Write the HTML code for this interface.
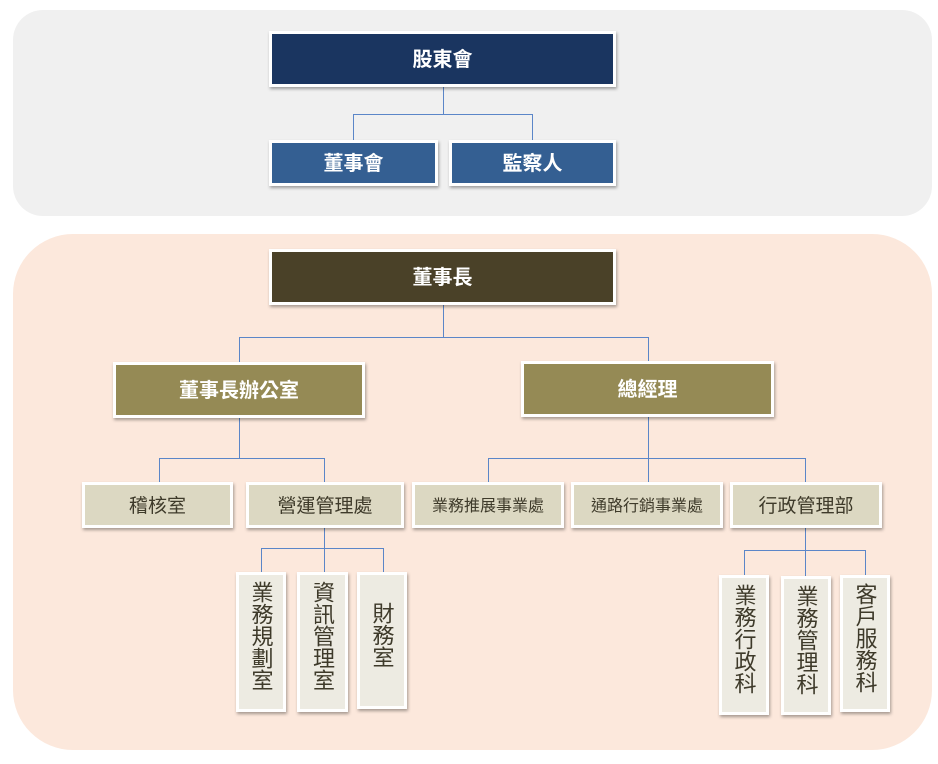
<!DOCTYPE html>
<html><head><meta charset="utf-8"><style>
body{margin:0;width:938px;height:764px;background:#fff;position:relative;overflow:hidden;font-family:"Liberation Sans","Noto Sans CJK TC",sans-serif}
.p{position:absolute}
.b{position:absolute;box-sizing:border-box;border:3px solid #fff;box-shadow:1px 2px 3px rgba(0,0,0,.35);display:flex;align-items:center;justify-content:center;text-align:center}
.w{color:#fff;font-weight:bold;font-size:20px;padding-bottom:4px}
.t{background:#dcd8c2;color:#3e3a2a;font-size:19px;padding-bottom:2px}
.v{background:#edebe2;color:#3e3a2a;font-size:22px;line-height:27px;writing-mode:vertical-rl;padding-bottom:12px}
.l{position:absolute;background:#5b86c8}
</style></head><body>
<div class="p" style="left:13px;top:10px;width:919px;height:206px;background:#f0f0f0;border-radius:30px"></div>
<div class="p" style="left:13px;top:234px;width:919px;height:516px;background:#fce8dc;border-radius:60px"></div>

<div class="l" style="left:443px;top:86px;width:1px;height:29px"></div>
<div class="l" style="left:353px;top:114px;width:180px;height:1px"></div>
<div class="l" style="left:353px;top:114px;width:1px;height:28px"></div>
<div class="l" style="left:532px;top:114px;width:1px;height:28px"></div>

<div class="l" style="left:443px;top:304px;width:1px;height:34px"></div>
<div class="l" style="left:239px;top:337px;width:410px;height:1px"></div>
<div class="l" style="left:239px;top:337px;width:1px;height:27px"></div>
<div class="l" style="left:648px;top:337px;width:1px;height:26px"></div>

<div class="l" style="left:239px;top:417px;width:1px;height:42px"></div>
<div class="l" style="left:159px;top:458px;width:166px;height:1px"></div>
<div class="l" style="left:159px;top:458px;width:1px;height:26px"></div>
<div class="l" style="left:324px;top:458px;width:1px;height:26px"></div>

<div class="l" style="left:648px;top:416px;width:1px;height:68px"></div>
<div class="l" style="left:488px;top:458px;width:318px;height:1px"></div>
<div class="l" style="left:488px;top:458px;width:1px;height:26px"></div>
<div class="l" style="left:805px;top:458px;width:1px;height:26px"></div>

<div class="l" style="left:324px;top:527px;width:1px;height:47px"></div>
<div class="l" style="left:261px;top:548px;width:123px;height:1px"></div>
<div class="l" style="left:261px;top:548px;width:1px;height:26px"></div>
<div class="l" style="left:383px;top:548px;width:1px;height:26px"></div>

<div class="l" style="left:805px;top:527px;width:1px;height:50px"></div>
<div class="l" style="left:744px;top:550px;width:122px;height:1px"></div>
<div class="l" style="left:744px;top:550px;width:1px;height:27px"></div>
<div class="l" style="left:865px;top:550px;width:1px;height:27px"></div>

<div class="b w" style="left:269px;top:31px;width:347px;height:56px;background:#1a3560">股東會</div>
<div class="b w" style="left:269px;top:140px;width:169px;height:46px;background:#345f92">董事會</div>
<div class="b w" style="left:449px;top:140px;width:167px;height:46px;background:#345f92">監察人</div>

<div class="b w" style="left:269px;top:249px;width:347px;height:56px;background:#4a4128">董事長</div>
<div class="b w" style="left:113px;top:362px;width:252px;height:56px;background:#958a55">董事長辦公室</div>
<div class="b w" style="left:521px;top:361px;width:253px;height:56px;background:#958a55">總經理</div>

<div class="b t" style="left:82px;top:482px;width:151px;height:46px">稽核室</div>
<div class="b t" style="left:246px;top:482px;width:158px;height:46px">營運管理處</div>
<div class="b t" style="left:412px;top:482px;width:152px;height:46px;font-size:16px">業務推展事業處</div>
<div class="b t" style="left:571px;top:482px;width:152px;height:46px;font-size:16px">通路行銷事業處</div>
<div class="b t" style="left:730px;top:482px;width:152px;height:46px">行政管理部</div>

<div class="b v" style="left:236px;top:572px;width:50px;height:140px">業務規劃室</div>
<div class="b v" style="left:297px;top:572px;width:51px;height:140px">資訊管理室</div>
<div class="b v" style="left:357px;top:572px;width:50px;height:137px">財務室</div>

<div class="b v" style="left:719px;top:575px;width:50px;height:140px">業務行政科</div>
<div class="b v" style="left:781px;top:576px;width:50px;height:139px">業務管理科</div>
<div class="b v" style="left:840px;top:575px;width:50px;height:137px">客戶服務科</div>
</body></html>
